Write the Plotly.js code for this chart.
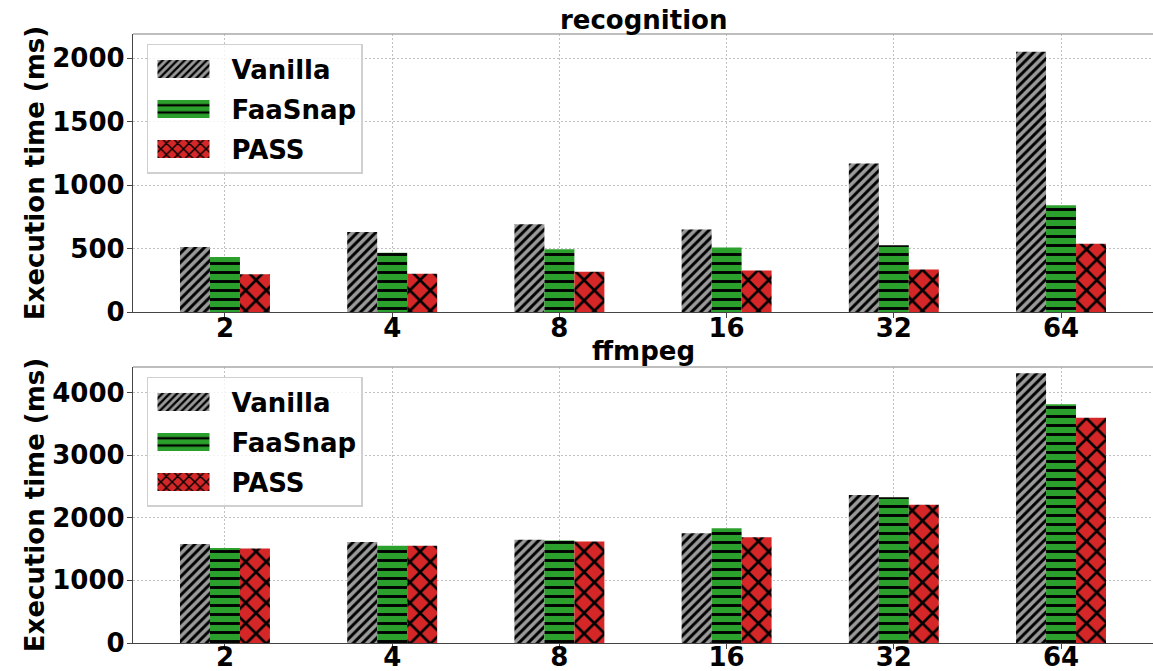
<!DOCTYPE html>
<html>
<head>
<meta charset="utf-8">
<script src="https://cdn.plot.ly/plotly-3.0.1.min.js"></script>
<style>
  html, body { margin: 0; padding: 0; background: #fff; overflow: hidden; }
  #chart { width: 1153px; height: 671px; }
</style>
</head>
<body>
<div id="chart"></div>
<script>
// Number of concurrent invocations on the x axis
const sizes = ['2', '4', '8', '16', '32', '64'];

// recognition workload, execution time in ms
const recogVanilla = [512, 631, 692, 650, 1171, 2052];
const recogFaaSnap = [433, 468, 494, 508, 526, 842];
const recogPass    = [297, 302, 318, 328, 336, 539];

// ffmpeg workload, execution time in ms
const ffVanilla = [1579, 1611, 1648, 1754, 2365, 4306];
const ffFaaSnap = [1515, 1552, 1636, 1834, 2328, 3812];
const ffPass    = [1509, 1552, 1620, 1690, 2206, 3598];

const FONT = 'DejaVu Sans, Liberation Sans, sans-serif';
const FS = 26;

const styles = {
  Vanilla: { color: '#9a9a9a', pattern: { shape: '/', fgcolor: '#000', bgcolor: '#9a9a9a', size: 6.5, solidity: 0.45 } },
  FaaSnap: { color: '#2ca02c', pattern: { shape: '-', fgcolor: '#000', bgcolor: '#2ca02c', size: 9, solidity: 0.32 } },
  PASS:    { color: '#d62728', pattern: { shape: 'x', fgcolor: '#000', bgcolor: '#d62728', size: 14.5, solidity: 0.33 } }
};

function barTrace(name, values, xa, ya, legend) {
  const s = styles[name];
  return {
    type: 'bar', name: name, x: sizes, y: values,
    xaxis: xa, yaxis: ya, legend: legend, legendgroup: name,
    marker: { color: s.color, pattern: s.pattern, line: { width: 0 } },
    hoverinfo: 'x+y+name'
  };
}

const data = [
  barTrace('Vanilla', recogVanilla, 'x', 'y', 'legend'),
  barTrace('FaaSnap', recogFaaSnap, 'x', 'y', 'legend'),
  barTrace('PASS',    recogPass,    'x', 'y', 'legend'),
  barTrace('Vanilla', ffVanilla, 'x2', 'y2', 'legend2'),
  barTrace('FaaSnap', ffFaaSnap, 'x2', 'y2', 'legend2'),
  barTrace('PASS',    ffPass,    'x2', 'y2', 'legend2')
];

const boldFont = { family: FONT, size: FS, weight: 'bold', color: '#000' };

function xAxis(anchor, labelShift) {
  return {
    type: 'category', anchor: anchor, range: [-0.55, 5.55],
    showline: true, linecolor: '#444', linewidth: 1.2,
    ticks: 'outside', ticklen: 5, tickcolor: '#444',
    showgrid: true, gridcolor: '#c0c0c0', griddash: '2px,2px', gridwidth: 1,
    tickfont: boldFont, ticklabelstandoff: labelShift, zeroline: false, fixedrange: true
  };
}
function yAxis(anchor, domain, top, dtick) {
  return {
    anchor: anchor, domain: domain, range: [0, top], dtick: dtick,
    showline: true, linecolor: '#444', linewidth: 1.2,
    ticks: 'outside', ticklen: 5, tickcolor: '#444',
    showgrid: true, gridcolor: '#c0c0c0', griddash: '2px,2px', gridwidth: 1,
    zeroline: false, tickfont: boldFont, ticklabelstandoff: -3, fixedrange: true,
    title: { text: 'Execution time (ms)', font: boldFont, standoff: 0 }
  };
}

function legendBox(y) {
  return {
    x: 0.0137, y: y, xanchor: 'left', yanchor: 'top',
    bgcolor: 'rgba(255,255,255,0.8)', bordercolor: '#d0d0d0', borderwidth: 1.5,
    font: boldFont, itemwidth: 73, tracegroupgap: 3.2, traceorder: 'grouped'
  };
}

const layout = {
  width: 1153, height: 671,
  margin: { l: 133, r: 0, t: 34, b: 28 },
  paper_bgcolor: '#fff', plot_bgcolor: '#fff',
  barmode: 'group', bargap: 0.462, bargroupgap: 0,
  showlegend: true,
  xaxis: xAxis('y', -12),
  yaxis: yAxis('x', [0.5435, 1], 2192, 500),
  xaxis2: xAxis('y2', -14),
  yaxis2: yAxis('x2', [0, 0.4532], 4407, 1000),
  legend: legendBox(0.9836),
  legend2: legendBox(0.4368),
  shapes: [
    { type: 'line', xref: 'x domain', yref: 'y domain', x0: 0, x1: 1, y0: 1, y1: 1, line: { color: '#a8a8a8', width: 1.5 } },
    { type: 'line', xref: 'x2 domain', yref: 'y2 domain', x0: 0, x1: 1, y0: 1, y1: 1, line: { color: '#a8a8a8', width: 1.5 } }
  ],
  annotations: [
    { text: 'recognition', xref: 'paper', yref: 'paper', x: 0.5, y: 1, yshift: -3, xanchor: 'center', yanchor: 'bottom', showarrow: false, font: boldFont },
    { text: 'ffmpeg', xref: 'paper', yref: 'paper', x: 0.5, y: 0.4532, yshift: -1, xanchor: 'center', yanchor: 'bottom', showarrow: false, font: boldFont }
  ]
};

// Widen the legend swatches into long hatched strips
function widenSwatches(gd) {
  gd.querySelectorAll('g.legendpoints path').forEach(function (p) {
    const d = p.getAttribute('d') || '';
    if (d.indexOf('M6,6') === 0 || p.getAttribute('data-wide')) {
      p.setAttribute('d', 'M26,9H-26V-9H26Z');
      p.setAttribute('transform', 'translate(35,0)');
      p.setAttribute('data-wide', '1');
    }
  });
}

const gd = document.getElementById('chart');
Plotly.newPlot(gd, data, layout, { displayModeBar: false, staticPlot: true }).then(function () {
  widenSwatches(gd);
  setTimeout(function () { widenSwatches(gd); }, 0);
  gd.on('plotly_afterplot', function () { widenSwatches(gd); });
});
</script>
</body>
</html>
